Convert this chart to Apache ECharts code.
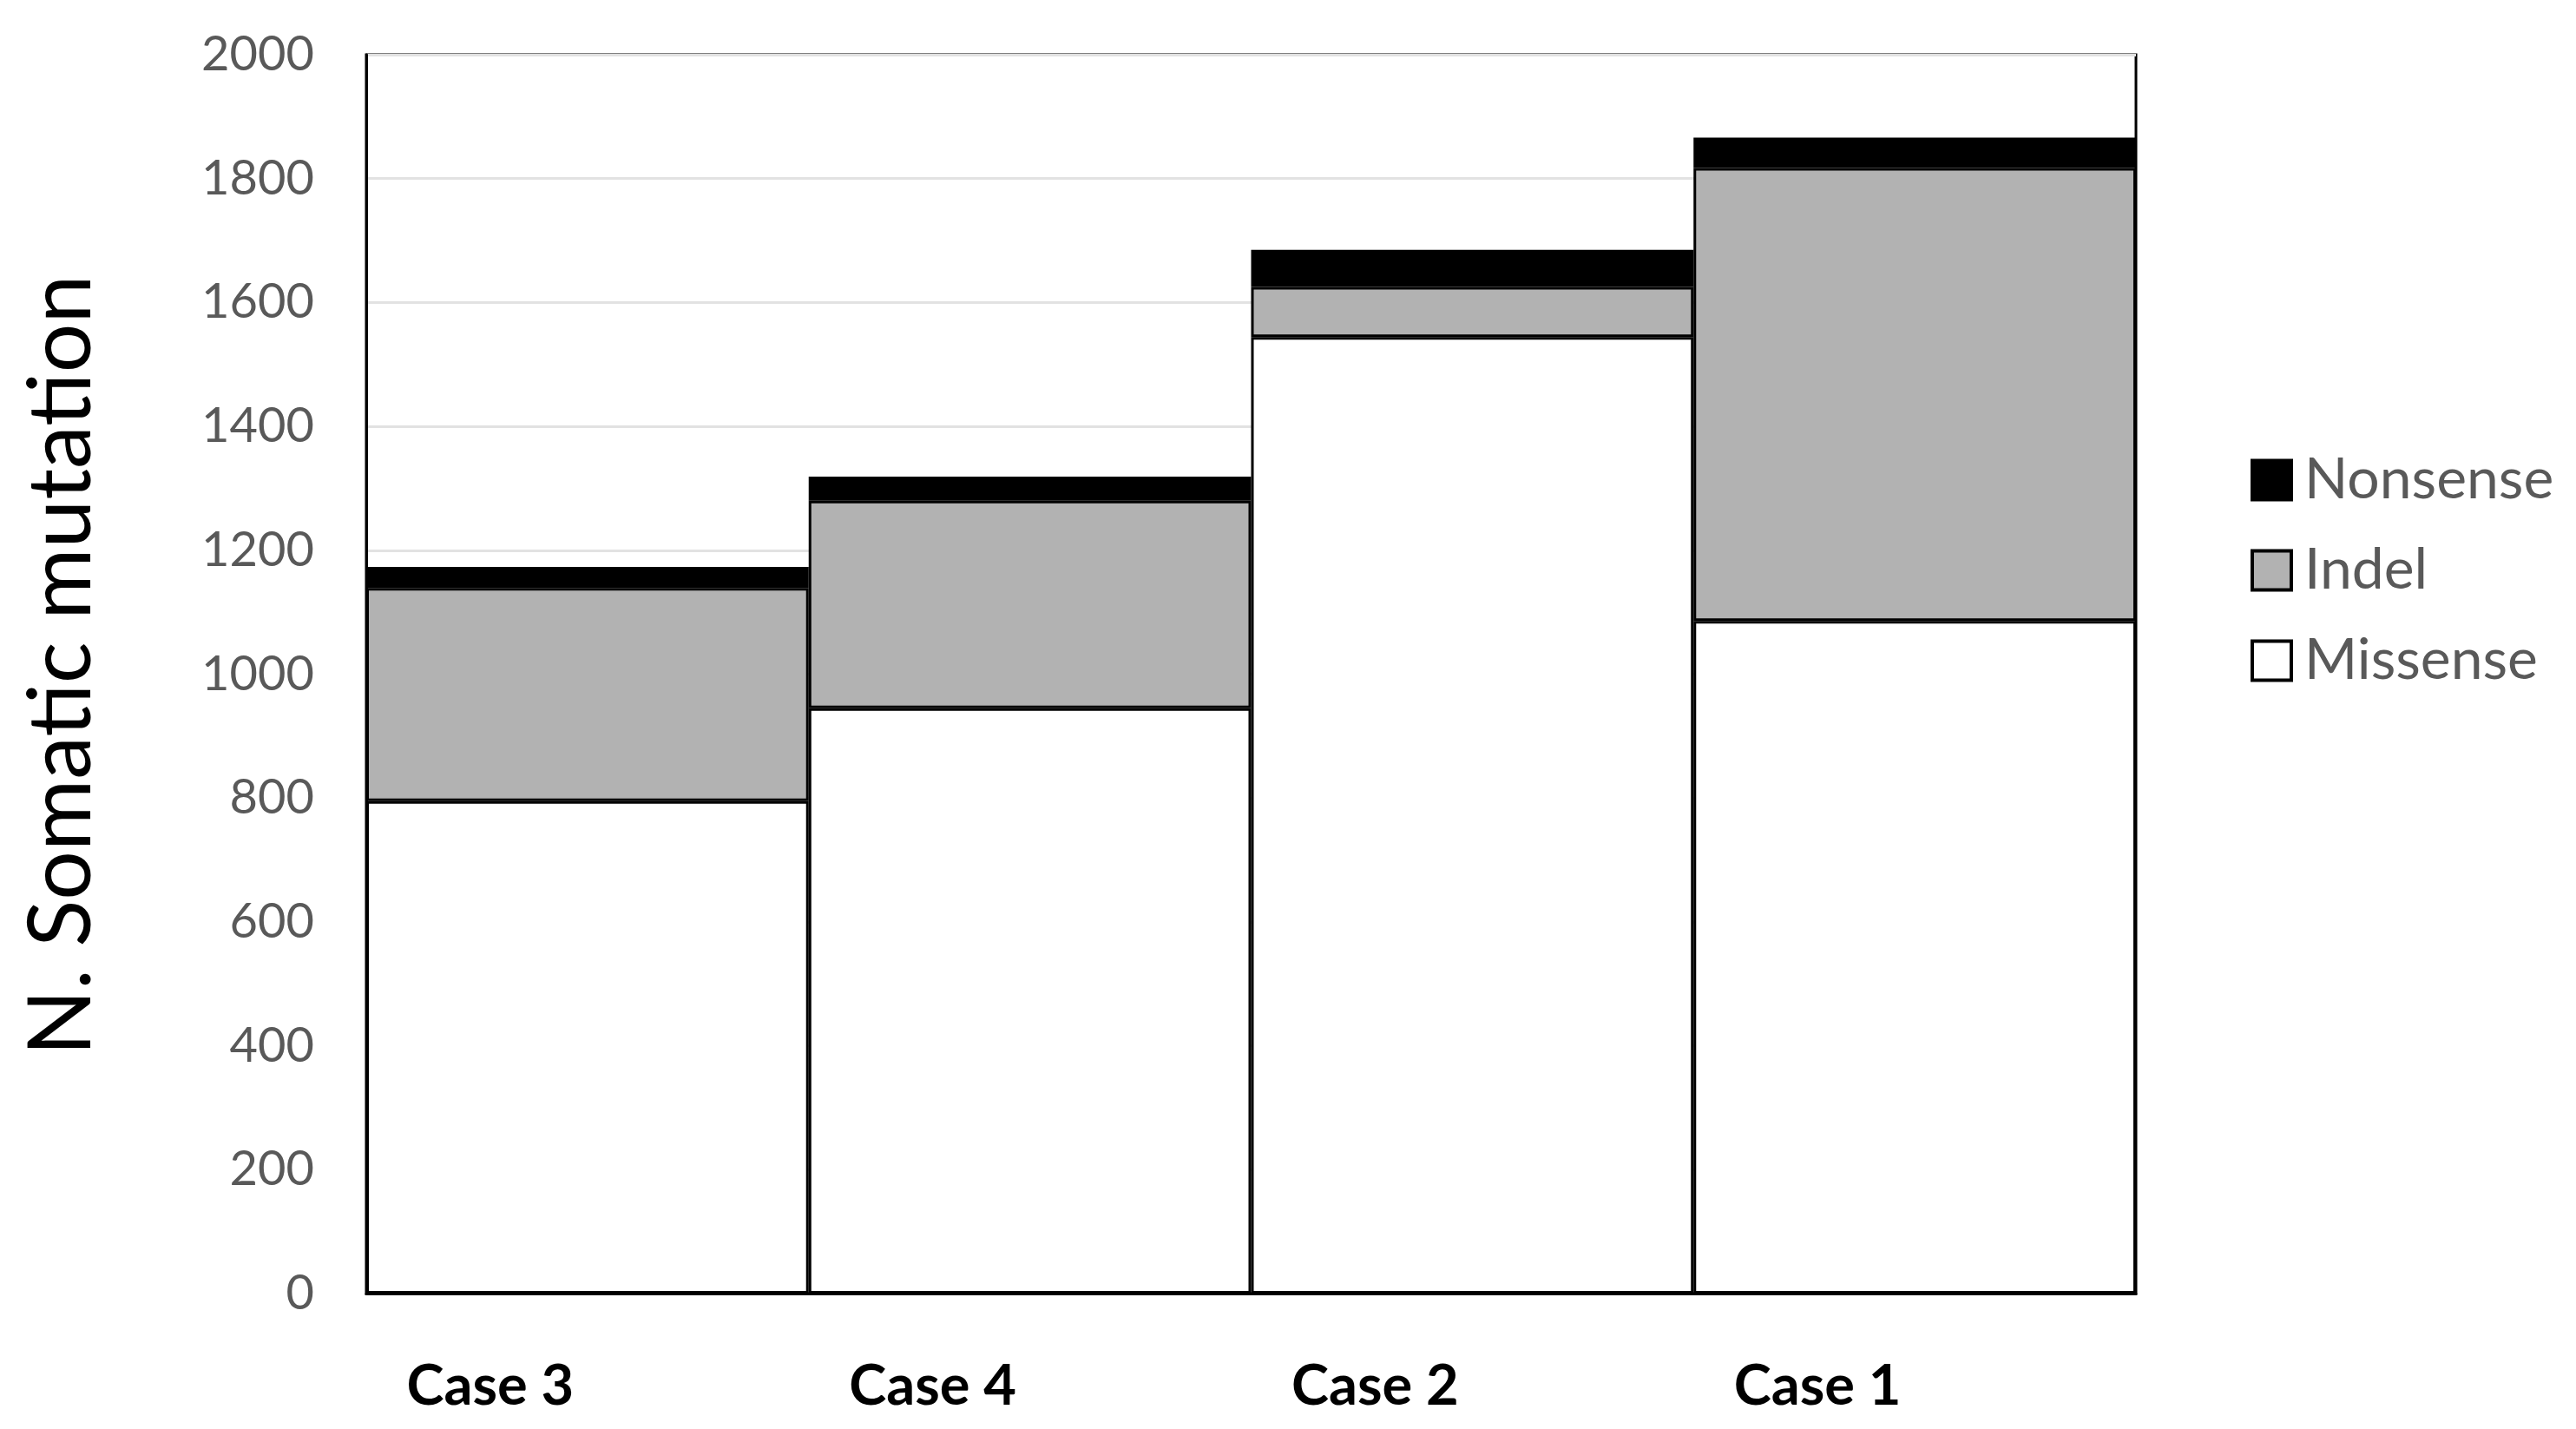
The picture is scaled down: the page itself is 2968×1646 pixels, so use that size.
<!DOCTYPE html>
<html>
<head>
<meta charset="utf-8">
<script src="https://cdn.jsdelivr.net/npm/echarts@6/dist/echarts.min.js"></script>
<style>
  html, body { margin: 0; padding: 0; background: #fff; }
  #chart { width: 2968px; height: 1646px; }
</style>
</head>
<body>
<div id="chart"></div>
<script>
// categories in the order they are drawn
const cases = ['Case 3', 'Case 4', 'Case 2', 'Case 1']
// stacked segments, bottom to top
const missense = [795, 945, 1544, 1086]
const indel = [344, 335, 81, 731]
const nonsense = [34, 39, 60, 49]
const legendOrder = ['Nonsense', 'Indel', 'Missense']

const chart = echarts.init(document.getElementById('chart'))

const barStyle = function (fill) {
  return { color: fill, borderColor: '#000', borderWidth: 3 }
}

const option = {
  backgroundColor: '#fff',
  animation: false,
  textStyle: { fontFamily: 'Lato' },
  grid: {
    left: 422,
    right: 507,
    top: 63,
    bottom: 156,
    show: true,
    borderColor: '#000',
    borderWidth: 3,
    backgroundColor: 'transparent'
  },
  legend: {
    data: legendOrder,
    orient: 'vertical',
    left: 2588,
    top: 515,
    icon: 'rect',
    itemWidth: 45,
    itemHeight: 45,
    itemGap: 38,
    itemStyle: { borderColor: '#000', borderWidth: 4 },
    textStyle: {
      fontFamily: 'Lato',
      fontSize: 66,
      color: '#595959',
      lineHeight: 66,
      padding: [0, 0, 0, 10]
    }
  },
  xAxis: {
    type: 'category',
    data: cases,
    axisLine: { lineStyle: { color: '#000', width: 3 } },
    axisTick: { show: false },
    axisLabel: {
      fontFamily: 'Lato',
      fontWeight: 'bold',
      fontSize: 65,
      color: '#000',
      margin: 75,
      padding: [0, 224, 0, 0]
    }
  },
  yAxis: {
    type: 'value',
    min: 0,
    max: 2000,
    interval: 200,
    name: 'N. Somatic mutation',
    nameLocation: 'middle',
    nameGap: 300,
    nameTextStyle: {
      fontFamily: 'Lato',
      fontSize: 100,
      color: '#000',
      padding: [0, 0, 0, 20]
    },
    axisLine: { show: true, lineStyle: { color: '#000', width: 3 } },
    axisTick: { show: false },
    axisLabel: {
      fontFamily: 'Lato',
      fontSize: 56,
      color: '#595959',
      margin: 60,
      formatter: function (v) { return String(v) }
    },
    splitLine: { lineStyle: { color: '#e2e2e2', width: 3 } }
  },
  series: [
    {
      name: 'Missense',
      type: 'bar',
      stack: 'total',
      barCategoryGap: 0,
      itemStyle: barStyle('#ffffff'),
      data: missense
    },
    {
      name: 'Indel',
      type: 'bar',
      stack: 'total',
      barCategoryGap: 0,
      itemStyle: barStyle('#b2b2b2'),
      data: indel
    },
    {
      name: 'Nonsense',
      type: 'bar',
      stack: 'total',
      barCategoryGap: 0,
      itemStyle: barStyle('#000000'),
      data: nonsense
    }
  ]
}

chart.setOption(option)
</script>
</body>
</html>
